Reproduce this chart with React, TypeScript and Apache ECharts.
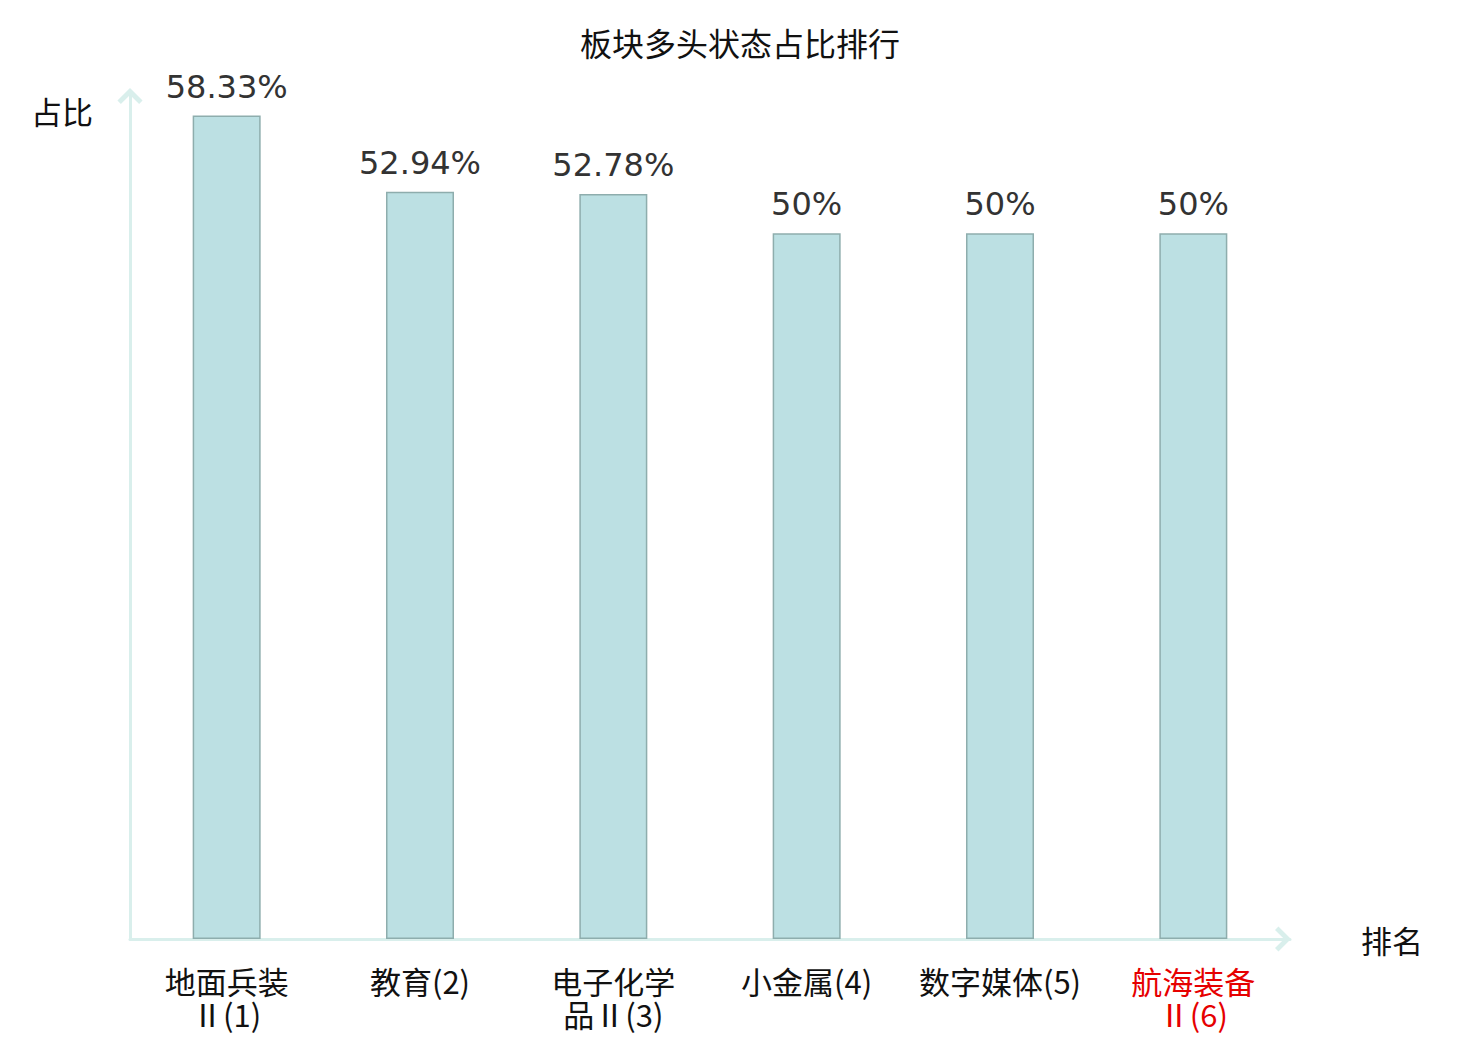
import React, { useEffect, useRef } from "react";
import * as echarts from "echarts";

const categories = ["地面兵装\nⅡ(1)", "教育(2)", "电子化学\n品Ⅱ(3)", "小金属(4)", "数字媒体(5)", "航海装备\nⅡ(6)"];
const values = [58.33, 52.94, 52.78, 50, 50, 50];
const highlightIndex = [5];

export default function App() {
  const ref = useRef<HTMLDivElement>(null);
  useEffect(() => {
    const chart = echarts.init(ref.current!, null, { renderer: "svg" });
    const axisColor = "#d9efec";
    const chevron = "path://M0,20 L20,0 L40,20 L34.5,25.5 L20,11 L5.5,25.5 Z";
    chart.setOption({
      animation: false,
      backgroundColor: "#ffffff",
      title: {
        text: "板块多头状态占比排行",
        left: "center",
        top: 21,
        textStyle: { fontSize: 32, fontWeight: "normal", color: "#111", fontFamily: "Noto Sans CJK SC" },
      },
      grid: { left: 130, right: 190, top: 92, bottom: 101 },
      xAxis: {
        type: "category",
        data: categories,
        name: "排名",
        nameLocation: "end",
        nameGap: 71,
        nameTextStyle: { fontSize: 31, color: "#111", fontFamily: "Noto Sans CJK SC" },
        axisLine: {
          show: true,
          lineStyle: { color: axisColor, width: 3 },
          symbol: ["none", chevron],
          symbolSize: [26, 16],
          symbolOffset: [0, -7],
        },
        axisTick: { show: false },
        axisLabel: {
          interval: 0,
          margin: 25,
          fontSize: 31,
          lineHeight: 33,
          fontFamily: "Noto Sans CJK SC",
          color: (_v: any, i: number) => (highlightIndex.includes(i) ? "#e60000" : "#111"),
        },
      },
      yAxis: {
        type: "value",
        min: 0,
        max: 60,
        name: "占比",
        nameLocation: "end",
        nameGap: -18,
        nameTextStyle: {
          fontSize: 31,
          color: "#111",
          fontFamily: "Noto Sans CJK SC",
          align: "right",
          verticalAlign: "middle",
          padding: [0, 37, 4, 0],
        },
        axisLine: {
          show: true,
          lineStyle: { color: axisColor, width: 3 },
          symbol: ["none", chevron],
          symbolSize: [26, 16],
          symbolOffset: [0, -4],
        },
        axisTick: { show: false },
        axisLabel: { show: false },
        splitLine: { show: false },
      },
      series: [
        {
          type: "bar",
          data: values,
          barWidth: 68,
          itemStyle: { color: "#bce0e3", borderColor: "#8eadad", borderWidth: 1.5 },
          label: {
            show: true,
            position: "top",
            distance: 13,
            fontSize: 32,
            color: "#333",
            fontFamily: "DejaVu Sans",
            formatter: (p: any) => `${p.value}%`,
          },
        },
      ],
    });
    return () => chart.dispose();
  }, []);
  return <div ref={ref} style={{ width: 1480, height: 1040, position: "absolute", left: 0, top: 0 }} />;
}
